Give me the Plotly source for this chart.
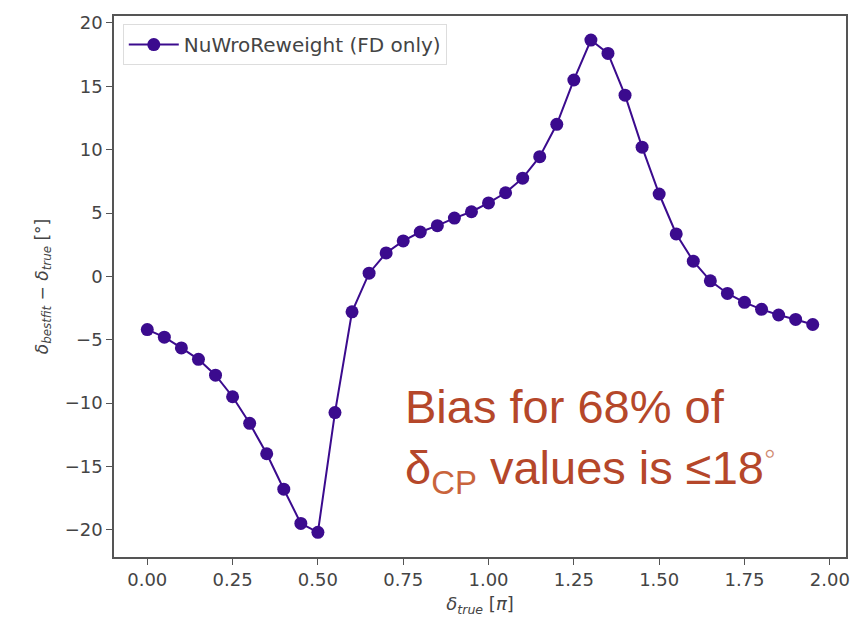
import plotly.graph_objects as go

delta_true = [0.00, 0.05, 0.10, 0.15, 0.20, 0.25, 0.30, 0.35, 0.40, 0.45,
              0.50, 0.55, 0.60, 0.65, 0.70, 0.75, 0.80, 0.85, 0.90, 0.95,
              1.00, 1.05, 1.10, 1.15, 1.20, 1.25, 1.30, 1.35, 1.40, 1.45,
              1.50, 1.55, 1.60, 1.65, 1.70, 1.75, 1.80, 1.85, 1.90, 1.95]
bias = [-4.2, -4.8, -5.65, -6.55, -7.8, -9.5, -11.6, -14.0, -16.8, -19.5,
        -20.2, -10.75, -2.8, 0.25, 1.85, 2.8, 3.5, 4.0, 4.6, 5.1,
        5.8, 6.6, 7.75, 9.45, 12.0, 15.5, 18.65, 17.6, 14.3, 10.2,
        6.5, 3.35, 1.2, -0.35, -1.35, -2.05, -2.6, -3.05, -3.4, -3.8]
x_ticks = [0.0, 0.25, 0.5, 0.75, 1.0, 1.25, 1.5, 1.75, 2.0]
y_ticks = [-20, -15, -10, -5, 0, 5, 10, 15, 20]
series_name = "NuWroReweight (FD only)"

purple = "#3b0b8e"
axis_col = "#555555"
text_col = "#444444"
font_fam = "DejaVu Sans"

fig = go.Figure()
fig.add_trace(go.Scatter(
    x=delta_true, y=bias, mode="lines+markers", name=series_name,
    line=dict(color=purple, width=2),
    marker=dict(color=purple, size=13),
    showlegend=True,
))

fig.update_layout(
    width=862, height=623,
    margin=dict(l=114, r=15, t=13, b=66),
    paper_bgcolor="white", plot_bgcolor="white",
    font=dict(family=font_fam, size=19, color=text_col),
    legend=dict(
        x=0.012, y=0.985, xanchor="left", yanchor="top",
        bgcolor="rgba(255,255,255,0.9)", bordercolor="#dddddd", borderwidth=1,
        font=dict(family=font_fam, size=20, color=text_col),
        itemwidth=50,
    ),
    xaxis=dict(
        range=[-0.0975, 2.0475], tickvals=x_ticks, tickformat=".2f",
        showgrid=False, zeroline=False,
        showline=True, linecolor=axis_col, linewidth=1.5, mirror=True,
        ticks="outside", ticklen=6, tickcolor=axis_col,
        tickfont=dict(size=18),
        title=dict(text="<i>δ</i><sub><i>true</i></sub> [<i>π</i>]",
                   font=dict(family=font_fam, size=18, color=text_col), standoff=8),
    ),
    yaxis=dict(
        range=[-22.15, 20.55], tickvals=y_ticks,
        showgrid=False, zeroline=False,
        showline=True, linecolor=axis_col, linewidth=1.5, mirror=True,
        ticks="outside", ticklen=6, tickcolor=axis_col,
        tickfont=dict(size=18),
        title=dict(text="<i>δ</i><sub><i>bestfit</i></sub> − <i>δ</i><sub><i>true</i></sub> [°]",
                   font=dict(family=font_fam, size=17, color=text_col), standoff=12),
    ),
    annotations=[dict(
        xref="paper", yref="paper", x=0.395, y=0.215,
        xanchor="left", yanchor="middle", align="left", showarrow=False,
        text="Bias for 68% of<br>δ<sub><span style='color:#c9643c'>CP</span></sub> values is ≤18<sup><span style='color:#d08a70'>◦</span></sup>",
        font=dict(family="Liberation Sans", size=47, color="#b5472a"),
    )],
)

fig.write_html("out.html")
